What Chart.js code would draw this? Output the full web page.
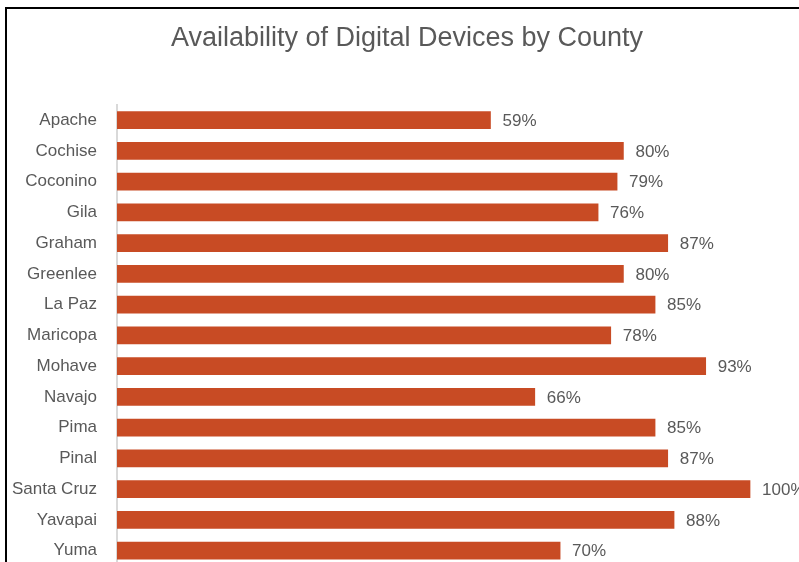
<!DOCTYPE html>
<html>
<head>
<meta charset="utf-8">
<title>Availability of Digital Devices by County</title>
<script src="https://cdn.jsdelivr.net/npm/chart.js@4/dist/chart.umd.min.js"></script>
<style>
  html, body { margin: 0; padding: 0; background: #fff; overflow: hidden; }
  body { width: 799px; height: 562px; position: relative; }
  .frame {
    position: absolute; left: 5px; top: 7px;
    width: 800px; height: 580px;
    border: 2px solid #000;
  }
  .frame canvas { display: block; }
</style>
</head>
<body>
<div class="frame">
  <canvas id="chart" width="800" height="580"></canvas>
</div>
<script>
  // ---- data ----
  const counties = ["Apache", "Cochise", "Coconino", "Gila", "Graham", "Greenlee", "La Paz",
    "Maricopa", "Mohave", "Navajo", "Pima", "Pinal", "Santa Cruz", "Yavapai", "Yuma"];
  const availability = [59, 80, 79, 76, 87, 80, 85, 78, 93, 66, 85, 87, 100, 88, 70];

  const BAR = "#c84b24";
  const TEXT = "#595959";
  const FONT = "'Liberation Sans', Arial, sans-serif";

  // value labels to the right of each bar
  const barLabels = {
    id: "barLabels",
    afterDatasetsDraw(chart) {
      const ctx = chart.ctx;
      const meta = chart.getDatasetMeta(0);
      ctx.save();
      ctx.font = "17px " + FONT;
      ctx.fillStyle = TEXT;
      ctx.textAlign = "left";
      ctx.textBaseline = "middle";
      meta.data.forEach((bar, i) => {
        ctx.fillText(availability[i] + "%", bar.x + 12, bar.y + 1);
      });
      ctx.restore();
    },
  };

  new Chart(document.getElementById("chart").getContext("2d"), {
    type: "bar",
    data: {
      labels: counties,
      datasets: [{
        data: availability,
        backgroundColor: BAR,
        borderWidth: 0,
        barThickness: 17,
      }],
    },
    options: {
      indexAxis: "y",
      responsive: false,
      animation: false,
      layout: { padding: { top: 0, left: 0, right: 0, bottom: 23 } },
      plugins: {
        legend: { display: false },
        tooltip: { enabled: false },
        title: {
          display: true,
          text: "Availability of Digital Devices by County",
          color: TEXT,
          font: { family: FONT, size: 27, weight: "normal" },
          padding: { top: 13, bottom: 50.4 },
        },
      },
      scales: {
        x: { display: false, min: 0, max: 109 },
        y: {
          grid: { display: false, drawTicks: false },
          border: { display: true, color: "#d9d9d9", width: 2 },
          ticks: { color: TEXT, font: { family: FONT, size: 17 }, padding: 20 },
          afterFit: (scale) => {
            scale.width = 110;
            // keep the label padding from shrinking the plot area
            scale.paddingTop = 0;
            scale.paddingBottom = 0;
          },
        },
      },
    },
    plugins: [barLabels],
  });
</script>
</body>
</html>
